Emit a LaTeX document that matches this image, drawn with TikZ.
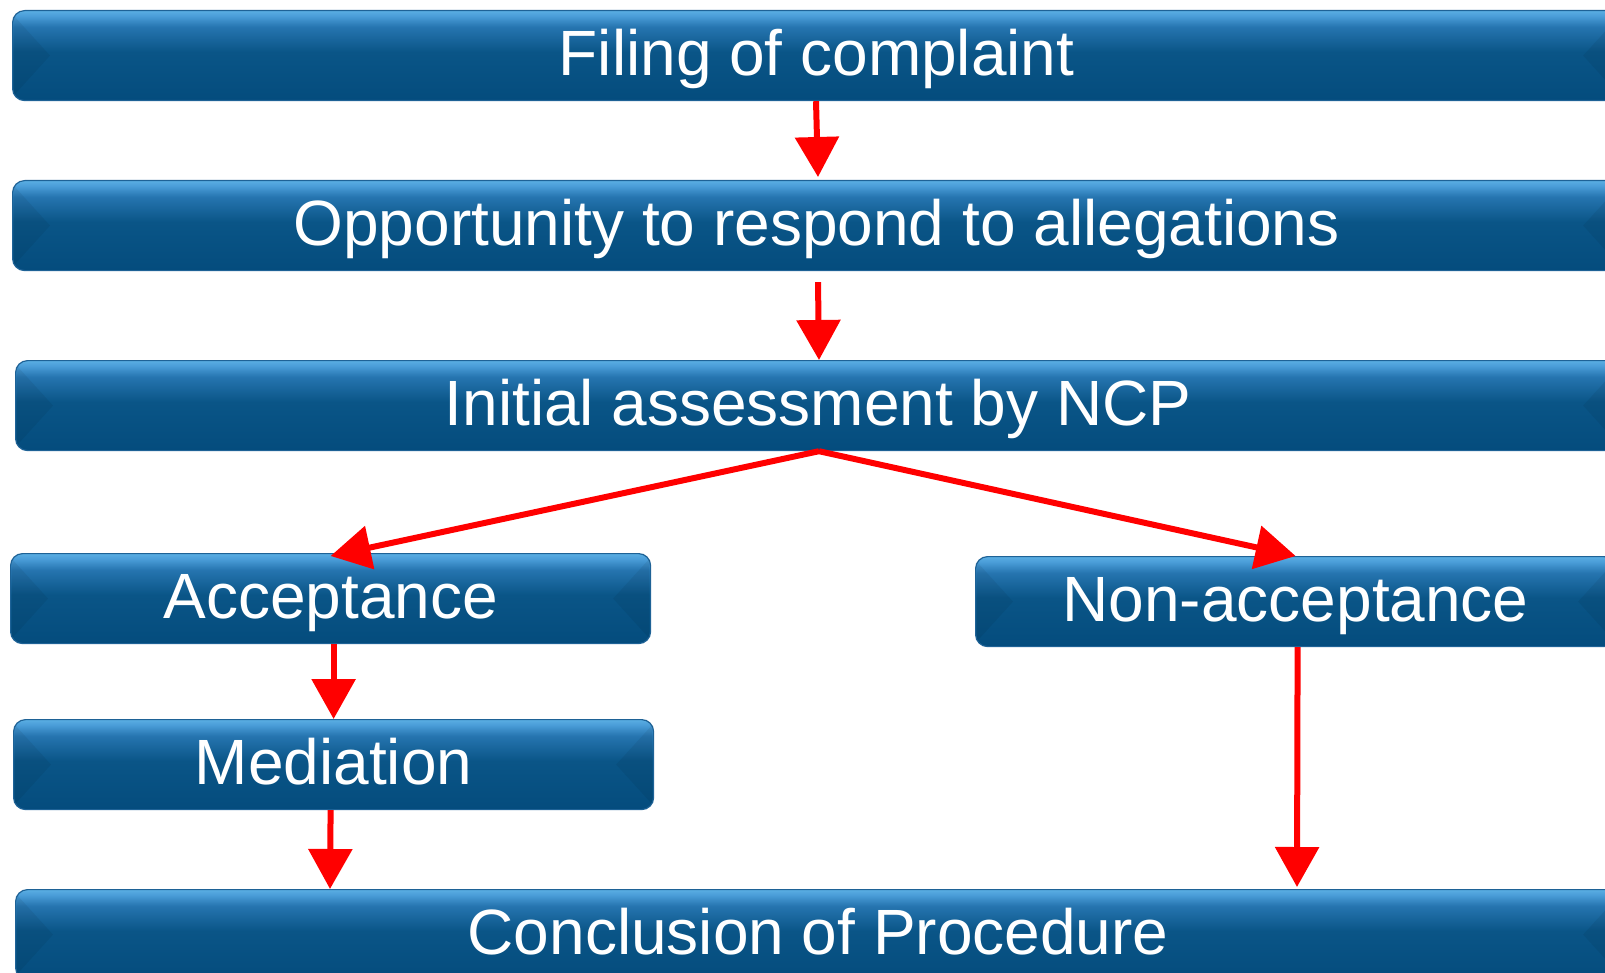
\documentclass[tikz,border=0pt]{standalone}
\usepackage{fontspec}
\setmainfont{Liberation Sans}
\usetikzlibrary{arrows.meta}
\definecolor{bdark}{HTML}{044C7D}
\definecolor{bdark2}{HTML}{0A5587}
\definecolor{bmid}{HTML}{2675B0}
\definecolor{blight}{HTML}{4A9DD8}
\definecolor{btop}{HTML}{5AAEE3}
\definecolor{bedge}{HTML}{1E6296}
\pgfdeclareverticalshading{btn}{100bp}{color(0bp)=(bdark); color(25bp)=(bdark); color(52bp)=(bdark2); color(66bp)=(bmid); color(72bp)=(blight); color(75bp)=(btop); color(100bp)=(btop)}
\tikzset{
  btnbox/.style={rectangle, rounded corners=6pt, shading=btn, draw=bedge, line width=0.6pt,
     text=white, font=\fontsize{32}{34}\selectfont, inner sep=0pt, anchor=north west,
     minimum height=45pt, text height=22.5pt, text depth=3pt},
  arr/.style={draw=red, line width=3pt, -{Triangle[length=20pt,width=21.5pt]}},
  bevel/.style={fill=black, fill opacity=0.06, draw=none}
}
\begin{document}
\begin{tikzpicture}[x=0.5pt,y=-0.5pt]
\useasboundingbox (0,0) rectangle (1605,973);
\node[btnbox, minimum width=804pt] (b1) at (12,10) {Filing of complaint};
\node[btnbox, minimum width=804pt] (b2) at (12,180) {Opportunity to respond to allegations};
\node[btnbox, minimum width=802.5pt] (b3) at (15,360) {Initial assessment by NCP};
\node[btnbox, minimum width=320pt] (acc) at (10,553) {Acceptance};
\node[btnbox, minimum width=320pt] (non) at (975,556) {Non-acceptance};
\node[btnbox, minimum width=320pt] (med) at (13,719) {Mediation};
\node[btnbox, minimum width=802.5pt] (conc) at (15,889) {Conclusion of Procedure};
% bevels
\foreach \n in {b1,b2,b3,acc,non,med,conc}{
  \fill[bevel] ([xshift=1pt,yshift=-3pt]\n.north west) -- ([xshift=19pt]\n.west) -- ([xshift=1pt,yshift=3pt]\n.south west) -- cycle;
  \fill[bevel] ([xshift=-1pt,yshift=-3pt]\n.north east) -- ([xshift=-19pt]\n.east) -- ([xshift=-1pt,yshift=3pt]\n.south east) -- cycle;
}
% arrows
\draw[arr] ([xshift=402pt]b1.south west) -- ([xshift=403pt,yshift=1.5pt]b2.north west);
\draw[arr] ([xshift=403pt,yshift=-5.5pt]b2.south west) -- ([xshift=402pt]b3.north west);
\draw[arr] ([xshift=402pt]b3.south west) -- ([yshift=-1.5pt]acc.north);
\draw[arr] ([xshift=402pt]b3.south west) -- (non.north);
\draw[arr] ([xshift=1.5pt]acc.south) -- (med.north);
\draw[arr] ([xshift=-1.5pt]med.south) -- ([xshift=157.5pt]conc.north west);
\draw[arr] ([xshift=1pt]non.south) -- ([xshift=641pt,yshift=1pt]conc.north west);
\end{tikzpicture}
\end{document}
